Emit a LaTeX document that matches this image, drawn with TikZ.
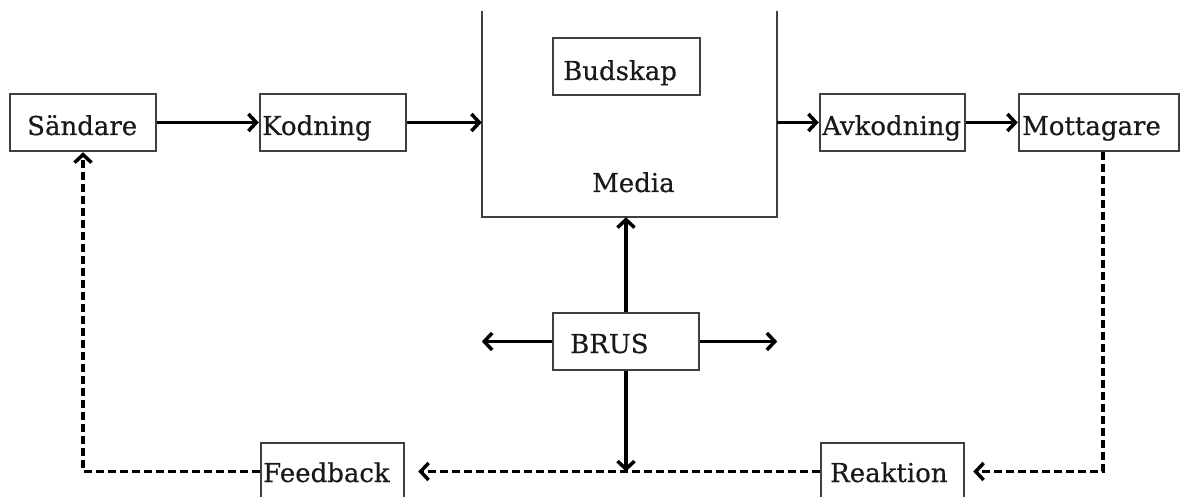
\documentclass[tikz,border=0pt]{standalone}
\usepackage{fontspec}
\setmainfont{DejaVu Serif}
\newfontfamily\lblfont[FakeBold=0.5]{DejaVu Serif}
\usetikzlibrary{arrows.meta}
\begin{document}
\begin{tikzpicture}[x=1pt,y=-1pt,
  box/.style={draw=black!75, line width=2.5pt, inner sep=0pt,
              minimum width=146pt, minimum height=57pt},
  lbl/.style={font=\lblfont\fontsize{26}{30}\selectfont, text=black!90, inner sep=0pt, anchor=base west},
  arr/.style={line width=3.5pt,
              -{Straight Barb[length=8pt,width=17pt,line width=3.5pt]}},
  dsh/.style={arr, dash pattern=on 8pt off 4pt},
  wall/.style={draw=black!75, line width=2.5pt}]
  \path[use as bounding box] (0,0) rectangle (1180,497);
  \clip (0,0) rectangle (1180,497);

  % frames of the blocks
  \node[box] (sand) at (83,122.5) {};
  \node[box] (kod)  at (333,122.5) {};
  \node[box, minimum width=145pt] (avk)  at (892.5,122.5) {};
  \node[box, minimum width=160pt] (mott) at (1099,122.5) {};
  \node[box, minimum width=147pt] (bud)  at (626.5,66.5) {};
  \node[box] (brus) at (626,341.5) {};
  \node[box, minimum width=143pt] (feed) at (332.5,471.5) {};
  \node[box, minimum width=143pt] (reak) at (892.5,471.5) {};

  % the open media container
  \node[minimum width=295pt, minimum height=206pt, inner sep=0pt] (media) at (629.5,114) {};
  \draw[wall] (media.north west) -- (media.south west) -- (media.south east) -- (media.north east);

  % texts
  \node[lbl] (tsand) at (27,135)  {Sändare};
  \node[lbl] (tkod)  at (262,135) {Kodning};
  \node[lbl] (tavk)  at (822,135) {Avkodning};
  \node[lbl] (tmott) at (1022,135) {Mottagare};
  \node[lbl] (tbud)  at (563,80)  {Budskap};
  \node[lbl] (tmed)  at (592,192) {Media};
  \node[lbl] (tbrus) at (570,353) {BRUS};
  \node[lbl] (tfeed) at (263,482) {Feedback};
  \node[lbl] (treak) at (830,482) {Reaktion};

  % main chain
  \draw[arr] (sand) -- (kod);
  \draw[arr] (kod.east) -- (kod.east -| media.west);
  \draw[arr] (media.east |- avk.west) -- (avk.west);
  \draw[arr] (avk) -- (mott);

  % feedback loop
  \coordinate (turnR) at ([xshift=4pt]mott.south |- reak.east);
  \draw[dsh, shorten >=8pt] ([xshift=4pt]mott.south) -- (turnR) -- (reak.east);
  \draw[dsh, shorten >=13pt] (reak.west) -- (feed.east);
  \draw[dsh] (feed.west) -| (sand.south);

  % noise
  \draw[arr] (brus.north) -- (brus.north |- media.south);
  \draw[arr] (brus.south) -- (brus.south |- reak.west);
  \draw[arr] (brus.west) -- (media.west |- brus.west);
  \draw[arr] (brus.east) -- (media.east |- brus.east);
\end{tikzpicture}
\end{document}
